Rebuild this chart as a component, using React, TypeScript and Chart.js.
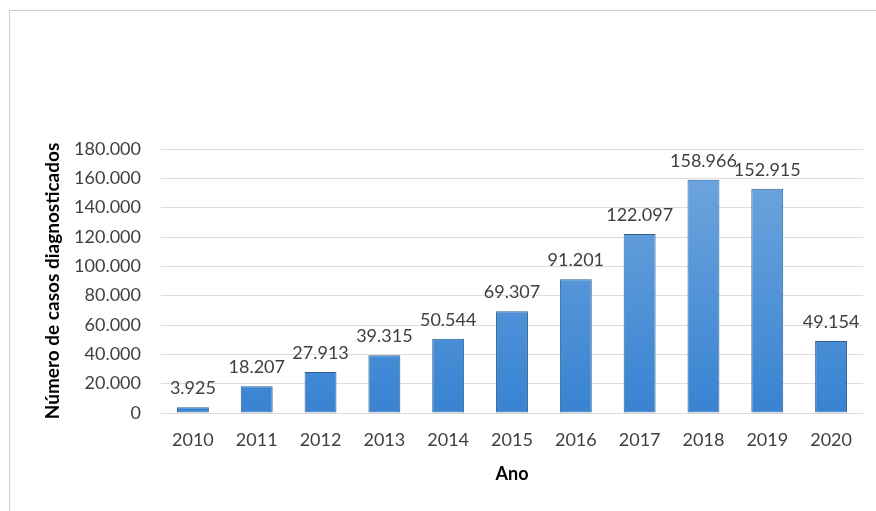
import React, { useEffect, useRef } from "react";
import { Chart, registerables } from "chart.js";

Chart.register(...registerables);

const years = ["2010", "2011", "2012", "2013", "2014", "2015", "2016", "2017", "2018", "2019", "2020"];
const cases = [3925, 18207, 27913, 39315, 50544, 69307, 91201, 122097, 158966, 152915, 49154];
const yTitle = "Número de casos diagnosticados";
const xTitle = "Ano";

const FONT = "Lato, 'Open Sans', sans-serif";

function fmt(v: number): string {
  return Math.round(v).toString().replace(/\B(?=(\d{3})+(?!\d))/g, ".");
}

const labelPlugin = {
  id: "barLabels",
  afterDatasetsDraw(chart: any) {
    const ctx = chart.ctx;
    const meta = chart.getDatasetMeta(0);
    ctx.save();
    ctx.font = `18px ${FONT}`;
    ctx.fillStyle = "#404040";
    ctx.textAlign = "center";
    ctx.textBaseline = "middle";
    meta.data.forEach((bar: any, i: number) => {
      ctx.fillText(fmt(cases[i]), bar.x, bar.y - 19);
    });
    ctx.restore();
  },
};

export default function App() {
  const ref = useRef<HTMLCanvasElement>(null);
  useEffect(() => {
    if (!ref.current) return;
    const chart = new Chart(ref.current, {
      type: "bar",
      data: {
        labels: years,
        datasets: [
          {
            data: cases,
            backgroundColor: (c: any) => {
              const area = c.chart.chartArea;
              if (!area) return "#4a8fd6";
              const g = c.chart.ctx.createLinearGradient(0, area.top, 0, area.bottom);
              g.addColorStop(0, "#72a8df");
              g.addColorStop(1, "#3883d2");
              return g;
            },
            borderColor: "#2f5f92",
            borderWidth: 1,
            borderSkipped: false,
            barPercentage: 0.5,
            categoryPercentage: 1,
          },
        ],
      },
      options: {
        animation: false,
        responsive: false,
        maintainAspectRatio: false,
        layout: { padding: { left: 37, right: 13, top: 149, bottom: 22 } },
        plugins: { legend: { display: false }, tooltip: { enabled: false } },
        scales: {
          x: {
            grid: { display: false, drawTicks: false },
            border: { display: false },
            ticks: { color: "#404040", font: { family: FONT, size: 18 }, padding: 16 },
            title: {
              display: true,
              text: xTitle,
              color: "#000",
              font: { family: FONT, size: 18, weight: "bold" },
              padding: { top: 4, bottom: 4 },
            },
            afterFit: (s: any) => {
              s.height = 76;
            },
          },
          y: {
            min: 0,
            max: 180000,
            ticks: {
              stepSize: 20000,
              color: "#404040",
              font: { family: FONT, size: 18 },
              padding: 20,
              callback: (v: any) => fmt(Number(v)),
            },
            grid: { color: "#dcdcdc", drawTicks: false },
            border: { display: false },
            title: {
              display: true,
              text: yTitle,
              color: "#000",
              font: { family: FONT, size: 19, weight: "bold" },
              padding: { top: 4, bottom: 4 },
            },
            afterFit: (s: any) => {
              s.width = 124;
            },
          },
        },
      },
      plugins: [labelPlugin],
    });
    return () => chart.destroy();
  }, []);

  return (
    <div style={{ position: "fixed", left: 0, top: 0, width: 876, height: 511, background: "#fff" }}>
      <div
        style={{
          position: "absolute",
          left: 9,
          top: 10,
          width: 867,
          height: 501,
          borderTop: "1px solid #cfcfcf",
          borderLeft: "1px solid #cfcfcf",
          boxSizing: "border-box",
        }}
      />
      <canvas ref={ref} width={876} height={511} style={{ position: "absolute", left: 0, top: 0, width: 876, height: 511 }} />
    </div>
  );
}
